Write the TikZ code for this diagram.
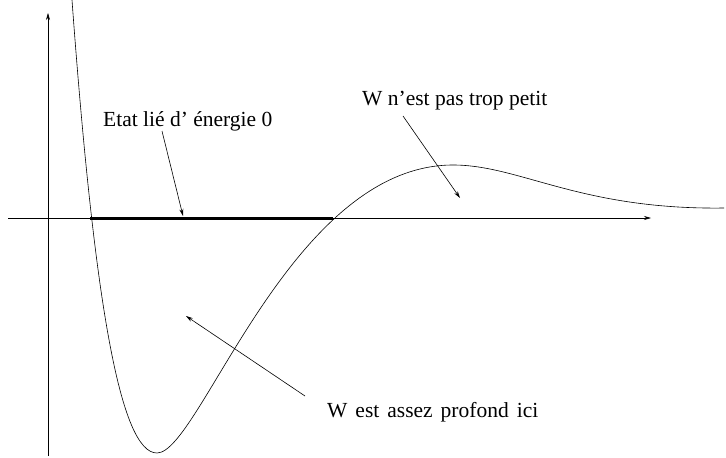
\documentclass[tikz,border=0pt]{standalone}
\usepackage{fontspec}
\setmainfont{Liberation Serif}
\usetikzlibrary{arrows.meta,positioning}

\begin{document}
\begin{tikzpicture}[
      x=1pt, y=-1pt,
      axis/.style={-{Stealth[length=7pt,width=4pt]}, semithick},
      pointer/.style={-{Stealth[length=7pt,width=4pt]}, semithick},
      label/.style={anchor=base west, inner sep=0pt, font=\fontsize{21.5}{24}\selectfont},
      potential/.style={semithick, line join=round},
      level/.style={line width=3pt}]
    \useasboundingbox (0,0) rectangle (726,458);
    % axes
    \coordinate (ox0) at (8,218);
    \coordinate (ox1) at (651,218);
    \coordinate (oy0) at (48,456);
    \coordinate (oy1) at (48,13);
    \draw[axis] (ox0) -- (ox1);
    \draw[axis] (oy0) -- (oy1);
    % the potential well
    \coordinate (wtop) at (72,0);
    \coordinate (wmin) at (157,453);
    \coordinate (wmax) at (453,165);
    \coordinate (wend) at (724,208);
    \draw[potential] (wtop) .. controls (94,300) and (120,453) .. (wmin)
      .. controls (200,453) and (290,165) .. (wmax)
      .. controls (520,165) and (580,210) .. (wend);
    % bound state at zero energy
    \coordinate (e0) at (90,218);
    \coordinate (e1) at (333,218);
    \draw[level] (e0) -- (e1);
    \coordinate (emid) at (183,216);
    % labels
    \node[label] (etat) at (103,126) {Etat lié d' énergie 0};
    \node[label] (petit) at (362,105) {W n'est pas trop petit};
    \node[label] (profond) at (327,417) {\spaceskip=8pt\relax W est assez profond ici};
    \coordinate (etatfoot) at (162,131);
    \coordinate (petitfoot) at (403,116);
    \coordinate (petittip) at (460,198);
    \coordinate (profondfoot) at (305,396);
    \coordinate (profondtip) at (186,316);
    \draw[pointer] (etatfoot) -- (emid);
    \draw[pointer] (petitfoot) -- (petittip);
    \draw[pointer] (profondfoot) -- (profondtip);
  \end{tikzpicture}
\end{document}
